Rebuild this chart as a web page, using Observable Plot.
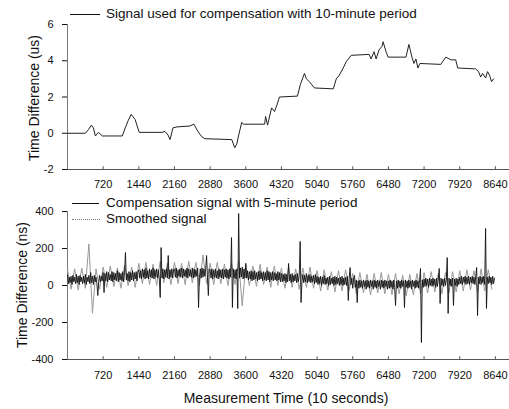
<!DOCTYPE html>
<html><head><meta charset="utf-8">
<script src="https://cdn.jsdelivr.net/npm/d3@7"></script>
<script src="https://cdn.jsdelivr.net/npm/@observablehq/plot@0.6"></script>
<style>
body{margin:0;background:#fff;font-family:"Liberation Sans",Arial,sans-serif;}
#wrap{position:relative;width:509px;height:409px;overflow:hidden;}
#wrap svg{display:block;}
.leg{position:absolute;font-size:13.5px;color:#111;white-space:nowrap;line-height:14px;}
.sw{position:absolute;height:0;}
.ylab{position:absolute;font-size:14px;color:#111;white-space:nowrap;transform:translate(-50%,-50%) rotate(-90deg);line-height:14px;}
.xlab{position:absolute;font-size:14px;color:#111;white-space:nowrap;transform:translate(-50%,-50%);line-height:14px;}
</style></head><body><div id="wrap"></div>
<script>
// X tick labels (measurement time, units of 10 s)
const xTicks = [720, 1440, 2160, 2880, 3600, 4320, 5040, 5760, 6480, 7200, 7920, 8640];
const yTicksTop = [-2, 0, 2, 4, 6];
const yTicksBottom = [-400, -200, 0, 200, 400];

// Top panel: signal used for compensation with 10-minute period (us)
const topT = [0, 362, 422, 482, 523, 563, 623, 704, 1106, 1166, 1226, 1286, 1327, 1367, 1447, 1910, 1970, 2030, 2070, 2131, 2211, 2472, 2553, 2633, 2714, 2774, 3317, 3377, 3417, 3457, 3518, 3558, 3980, 4000, 4040, 4121, 4181, 4221, 4281, 4643, 4703, 4784, 4824, 4884, 4985, 5367, 5427, 5487, 5568, 5628, 5729, 6090, 6130, 6191, 6231, 6291, 6352, 6372, 6432, 6472, 6834, 6894, 6955, 6995, 7035, 7075, 7115, 7538, 7638, 7739, 7839, 7879, 8241, 8301, 8342, 8382, 8442, 8482, 8522, 8563, 8603];
const topV = [0, 0, 0.2, 0.45, 0.3, -0.15, 0.05, -0.15, -0.15, 0.3, 0.7, 1.05, 0.9, 0.75, 0.05, 0.05, 0.1, -0.1, -0.35, 0.3, 0.35, 0.4, 0.5, 0.1, -0.2, -0.3, -0.35, -0.8, -0.6, -0.1, 0.6, 0.5, 0.5, 0.93, 0.45, 1.4, 1.2, 1.5, 2.0, 2.05, 2.7, 3.3, 3.0, 2.85, 2.5, 2.45, 3.0, 3.2, 3.6, 3.95, 4.3, 4.35, 4.1, 4.5, 4.1, 4.6, 4.8, 5.05, 4.5, 4.2, 4.2, 4.9, 4.2, 3.85, 4.1, 3.6, 3.85, 3.8, 4.2, 4.05, 4.05, 3.6, 3.55, 3.4, 3.1, 3.3, 3.05, 3.4, 3.2, 2.85, 3.0];

// Bottom panel: compensation signal with 5-minute period (ns), one value per 18 time units
const compStep = 18;
const compV = [
 55, 10, 45, 15, 50, 5, 55, 20, 45, 10, 60, 15, 50, 5, 55, 20, 45, 10, 50, 15,
 60, 5, 45, 20, 55, 10, 70, 15, 50, 5, 55, 20, 45, 10, -54, 15, 55, 20, 50, 25,
 70, -38, 65, 25, 75, 20, 70, 30, 60, 25, 75, 20, 70, 30, 65, 25, 80, 20, 70, 30,
 65, 25, 75, 20, 70, 178, 30, 65, 25, 75, 20, 70, 30, 80, 25, 70, 35, 75, 25, 70,
 85, 40, 80, 35, 90, 45, 85, 35, 95, 40, 80, 35, 90, 45, 85, 40, 95, 35, 85, 45,
 90, 40, 85, 35, -65, 205, 40, 90, 35, 85, 45, 90, 40, 162, 35, 85, 45, 90, 40, 85,
 90, 45, 95, 40, 85, 50, 90, 45, 95, 40, 90, 50, 85, 45, 95, 40, 90, 50, 85, 45,
 95, 40, 90, 45, 85, 50, 95, -119, 45, 90, 40, 95, 45, 90, 50, 85, 162, 45, -54, 90,
 85, 40, 90, 35, 85, 45, 90, 40, 80, 35, 90, 45, 85, 40, 90, 35, 85, 45, 90, 40,
 85, 35, 90, 45, 259, -119, 90, 40, 85, 35, 90, -124, 389, 40, 95, 45, 100, 35, 90, 40,
 120, 40, 80, 30, 75, 35, 80, 25, 75, 30, 80, 35, 70, 25, 75, 30, 80, 35, 70, 25,
 75, 30, 70, 25, 80, 30, 75, 20, 70, 30, 75, 25, 70, 30, 65, 25, 75, 30, 70, 20,
 65, 20, 60, 25, 65, 15, 60, 20, 119, 25, 60, 15, 65, 20, 55, 25, 60, 15, 65, 20,
 55, 238, -92, 20, 60, 15, 55, 20, 65, 15, 55, 20, 60, 15, 50, 20, 55, 10, 60, 15,
 50, 5, 45, 10, 50, 0, 45, 10, 55, 5, 40, 10, 45, 0, 50, 5, 40, 10, 45, 0,
 50, 5, 45, 10, 40, 0, 45, 5, 50, 0, 40, 5, 45, 0, 50, -81, 40, 97, 5, 40,
 -15, 35, 54, -10, 30, -92, 25, -15, 30, -10, 25, -15, 30, -5, 25, -20, 30, -10, 25, -15,
 30, -5, 25, -20, 30, -10, 25, -15, 30, -5, 25, -20, 30, -10, 25, -15, 30, -5, 25, -20,
 25, -15, 30, -10, 25, -20, 30, -10, -108, 25, -15, 30, -10, 25, -15, 30, -5, 25, -119, 30,
 -10, 25, -15, 30, -10, 25, -20, 30, -5, 25, -15, 30, -10, 25, -15, 30, 92, -308, 30, -10,
 35, -5, 40, 0, 35, -10, 40, 0, 35, -5, 40, 0, 35, -10, 40, -5, 35, 92, -97, 40,
 0, 35, -5, 40, 0, 35, 151, -151, 40, 0, 35, -5, 40, -108, 35, 0, 40, -5, 35, 5,
 45, 10, 50, 5, 45, 15, 50, 5, 45, 10, 50, 5, 45, 15, 50, 10, 45, 5, 50, 97,
 -162, 45, 10, 50, 5, 45, 15, 50, 5, 308, -124, 45, 10, 50, 15, 45, 5, 50, 10, 40
];

// Bottom panel: smoothed signal (ns), one value per 72 time units
const smoothStep = 72;
const smoothV = [
 85, -20, 90, -25, 95, -15, 225, -150, 90, -20,
 100, -10, 105, -5, 95, -15, 110, 0, 100, -10,
 120, 10, 125, 5, 115, 0, 130, 15, 120, 5,
 125, 10, 120, 5, 130, 15, 125, 0, 165, 10,
 120, 5, 125, 10, 115, 0, 120, 5, 130, -110,
 110, 0, 105, -5, 115, 5, 100, -10, 105, 0,
 95, -15, 100, -10, 90, -20, 95, -10, 100, -15,
 80, -30, 85, -25, 75, -35, 80, -30, 85, -25,
 65, -45, 70, -40, 60, -50, 65, -40, 70, -45,
 60, -50, 65, -45, 55, -55, 60, -50, 65, -45,
 70, -40, 75, -35, 65, -45, 70, -40, 75, -35,
 80, -30, 85, -25, 80, -35, 90, -30, 85, -20
];

const topData = topT.map((t, i) => ({t, v: topV[i]}));
const compData = compV.map((v, i) => ({t: i * compStep, v}));
const smoothData = smoothV.map((v, i) => ({t: i * smoothStep, v}));

const font = {fontFamily: "'Liberation Sans', Arial, sans-serif", fontSize: "11px", color: "#111", background: "#fff"};
const xDomain = [0, 8925];
const fmt = d => String(d);

const topPlot = Plot.plot({
  width: 509, height: 196,
  marginLeft: 67, marginRight: 0, marginTop: 24, marginBottom: 27,
  style: font,
  x: {domain: xDomain},
  y: {domain: [-2, 6]},
  marks: [
    Plot.axisY({ticks: yTicksTop, tickSize: 5, tickPadding: 9, tickFormat: fmt, label: null}),
    Plot.axisX({ticks: xTicks, tickSize: 0, tickPadding: 11, tickFormat: fmt, label: null}),
    Plot.ruleX(xTicks, {y1: -2, y2: -1.85, stroke: "#555"}),
    Plot.ruleX([0], {y1: -2, y2: 6, stroke: "#777"}),
    Plot.ruleY([-2], {stroke: "#555"}),
    Plot.line(topData, {x: "t", y: "v", stroke: "#222", strokeWidth: 1})
  ]
});

const bottomPlot = Plot.plot({
  width: 509, height: 213,
  marginLeft: 67, marginRight: 0, marginTop: 15, marginBottom: 50,
  style: font,
  x: {domain: xDomain},
  y: {domain: [-400, 400]},
  marks: [
    Plot.axisY({ticks: yTicksBottom, tickSize: 5, tickPadding: 9, tickFormat: fmt, label: null}),
    Plot.axisX({ticks: xTicks, tickSize: 0, tickPadding: 12, tickFormat: fmt, label: null}),
    Plot.ruleX(xTicks, {y1: -400, y2: -385, stroke: "#555"}),
    Plot.ruleX([0], {y1: -400, y2: 400, stroke: "#777"}),
    Plot.ruleY([-400], {stroke: "#555"}),
    Plot.line(smoothData, {x: "t", y: "v", stroke: "#999", strokeWidth: 1}),
    Plot.line(compData, {x: "t", y: "v", stroke: "#111", strokeWidth: 0.9})
  ]
});

const wrap = document.getElementById("wrap");
wrap.appendChild(topPlot);
wrap.appendChild(bottomPlot);

function add(html) { wrap.insertAdjacentHTML("beforeend", html); }
// legends
add('<div class="sw" style="left:70px;top:14px;width:30px;border-top:1px solid #111"></div>');
add('<div class="leg" style="left:106px;top:7px">Signal used for compensation with 10-minute period</div>');
add('<div class="sw" style="left:72px;top:203px;width:27px;border-top:1px solid #111"></div>');
add('<div class="leg" style="left:106px;top:196px">Compensation signal with 5-minute period</div>');
add('<div class="sw" style="left:72px;top:219px;width:28px;border-top:1px dotted #777"></div>');
add('<div class="leg" style="left:106px;top:212px">Smoothed signal</div>');
// axis titles
add('<div class="ylab" style="left:34px;top:98px">Time Difference (us)</div>');
add('<div class="ylab" style="left:22px;top:285px">Time Difference (ns)</div>');
add('<div class="xlab" style="left:286px;top:398px">Measurement Time (10 seconds)</div>');
</script>
</body></html>
